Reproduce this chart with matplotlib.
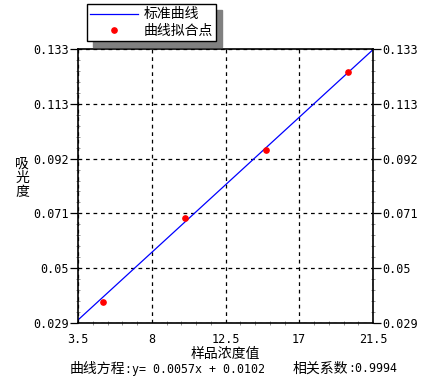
import numpy as np
import matplotlib
matplotlib.use('Agg')
import matplotlib.pyplot as plt
from matplotlib.ticker import AutoMinorLocator

plt.rcParams['font.family'] = ['Noto Sans CJK SC', 'DejaVu Sans']
MONO = ['DejaVu Sans Mono', 'Noto Sans CJK SC']

# data
conc = [5, 10, 15, 20]
absorb = [0.0369, 0.0687, 0.0946, 0.1242]
slope = 0.0057
intercept = 0.0102
r = 0.9994

x_ticks = [3.5, 8, 12.5, 17, 21.5]
y_labels = ['0.029', '0.05', '0.071', '0.092', '0.113', '0.133']
y_min, y_max = 0.029, 0.133

fig = plt.figure(figsize=(4.3, 3.87), dpi=100)
ax = fig.add_axes([78/430, 1-323/387, 295/430, 274/387])

xl = np.array([x_ticks[0], x_ticks[-1]])
ax.plot(xl, slope*xl + intercept, color='#0000ff', lw=0.9, label='标准曲线')
ax.plot(conc, absorb, 'o', color='red', ms=3.8, mec='red', lw=0, label='曲线拟合点')

ax.set_xlim(x_ticks[0], x_ticks[-1])
ax.set_ylim(y_min, y_max)
yt = np.linspace(y_min, y_max, len(y_labels))
ax.set_xticks(x_ticks)
ax.set_xticklabels([('%g' % v) for v in x_ticks], family=MONO, fontsize=8.5)
ax.set_yticks(yt)
ax.set_yticklabels(y_labels, family=MONO, fontsize=8.5)
ax.xaxis.set_minor_locator(AutoMinorLocator(5))
ax.yaxis.set_minor_locator(AutoMinorLocator(5))

ax.grid(True, which='major', color='black', ls=(0, (3, 3)), lw=0.9)
ax.tick_params(axis='y', which='major', direction='out', length=5.5, width=0.9, pad=1,
               left=True, right=True, labelright=True)
ax.tick_params(axis='x', which='major', length=0, pad=7)
ax.tick_params(which='minor', direction='inout', length=3, width=0.7, color='#909090',
               left=True, right=True, bottom=True, top=False)
for s in ax.spines.values():
    s.set_linewidth(1.2)

ax.set_xlabel('样品浓度值', fontsize=10, labelpad=1)
fig.text(22/430, 1-178/387, '吸\n光\n度', fontsize=10, ha='center', va='center', linespacing=1.0)

# bottom equation line: CJK at 10pt, ascii in mono
fig.text(70/430, 1-369/387, '曲线方程', fontsize=10, va='center')
fig.text(125/430, 1-369/387, ':y= %.4fx + %.4f' % (slope, intercept), family=MONO,
         fontsize=8.4, va='center')
fig.text(293/430, 1-369/387, '相关系数', fontsize=10, va='center')
fig.text(348/430, 1-369/387, ':%.4f' % r, family=MONO, fontsize=8.4, va='center')

fig.legend(loc='upper left', bbox_to_anchor=(87/430, 1-4/387), borderaxespad=0,
           fancybox=False, edgecolor='black', framealpha=1, fontsize=10,
           handlelength=3.4, borderpad=0.25, labelspacing=0.15, handletextpad=0.4,
           shadow={'color': 'gray', 'alpha': 1, 'ox': 4, 'oy': -4})

fig.savefig('out.png', dpi=100)
